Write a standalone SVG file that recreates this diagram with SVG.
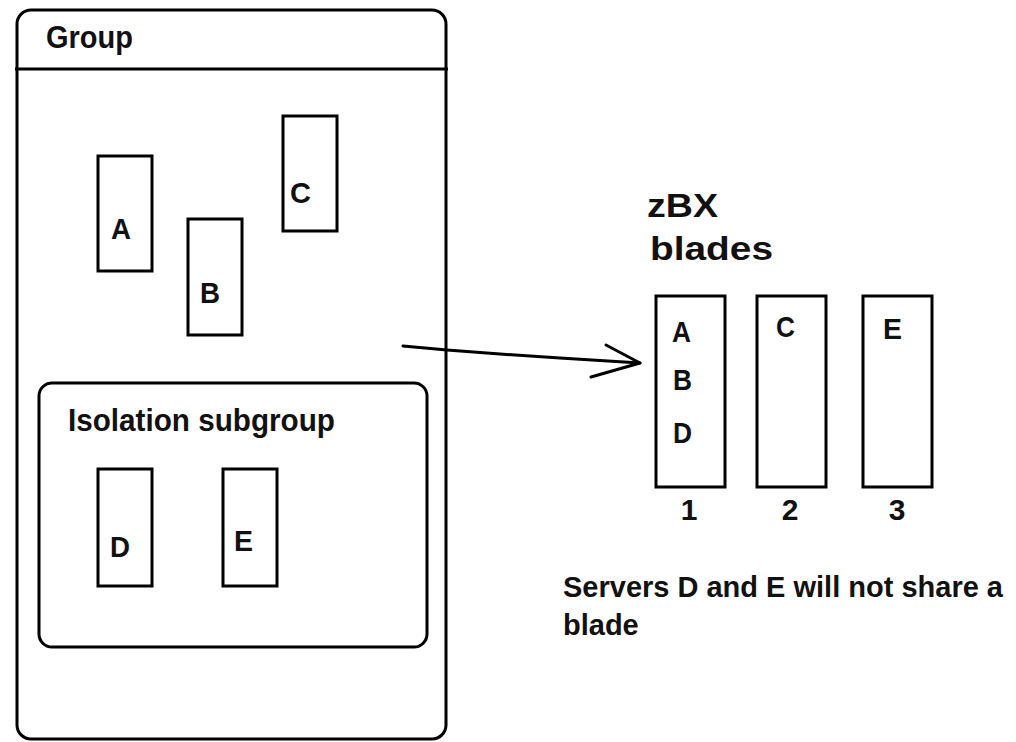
<svg xmlns="http://www.w3.org/2000/svg" width="1016" height="742" viewBox="0 0 1016 742">
<style>
.box{fill:none;stroke:#000;stroke-width:3}
.t{font-family:"Liberation Sans",Arial,sans-serif;font-weight:bold;fill:#111}
.lbl{font-size:30px}
.big{font-size:31px}
.note{font-size:29px}
.con{fill:none;stroke:#000;stroke-width:3;stroke-linecap:round;stroke-linejoin:round}
</style>
<rect width="1016" height="742" fill="#fff"/>
<g id="group">
<rect class="box" x="17" y="10" width="429" height="729" rx="14"/>
<line class="box" x1="15" y1="69" x2="448" y2="69"/>
<text class="t big" x="46" y="48" textLength="87" lengthAdjust="spacingAndGlyphs">Group</text>
</g>
<g id="node-A"><rect class="box" x="98" y="156" width="54" height="115"/><text class="t lbl" x="111" y="239" textLength="20" lengthAdjust="spacingAndGlyphs">A</text></g>
<g id="node-B"><rect class="box" x="188" y="219" width="54" height="116"/><text class="t lbl" x="200" y="303" textLength="20" lengthAdjust="spacingAndGlyphs">B</text></g>
<g id="node-C"><rect class="box" x="283" y="116" width="54" height="115"/><text class="t lbl" x="290" y="203" textLength="21" lengthAdjust="spacingAndGlyphs">C</text></g>
<g id="isolation-subgroup">
<rect class="box" x="39" y="383" width="388" height="264" rx="13"/>
<text class="t big" x="68" y="431" textLength="267" lengthAdjust="spacingAndGlyphs">Isolation subgroup</text>
</g>
<g id="node-D"><rect class="box" x="98" y="469" width="54" height="117"/><text class="t lbl" x="110" y="557" textLength="20" lengthAdjust="spacingAndGlyphs">D</text></g>
<g id="node-E"><rect class="box" x="223" y="469" width="54" height="117"/><text class="t lbl" x="234" y="551" textLength="19" lengthAdjust="spacingAndGlyphs">E</text></g>
<g id="zbx-title">
<text class="t" font-size="34" x="647" y="217" textLength="71" lengthAdjust="spacingAndGlyphs">zBX</text>
<text class="t" font-size="34" x="650" y="260" textLength="123" lengthAdjust="spacingAndGlyphs">blades</text>
</g>
<g id="blade-1">
<rect class="box" x="656" y="296" width="69" height="191"/>
<text class="t lbl" x="672" y="342" textLength="19" lengthAdjust="spacingAndGlyphs">A</text>
<text class="t lbl" x="673" y="390" textLength="19" lengthAdjust="spacingAndGlyphs">B</text>
<text class="t lbl" x="673" y="443" textLength="19" lengthAdjust="spacingAndGlyphs">D</text>
<text class="t lbl" x="689" y="520" text-anchor="middle">1</text>
</g>
<g id="blade-2">
<rect class="box" x="757" y="296" width="69" height="191"/>
<text class="t lbl" x="776" y="337" textLength="19" lengthAdjust="spacingAndGlyphs">C</text>
<text class="t lbl" x="790" y="520" text-anchor="middle">2</text>
</g>
<g id="blade-3">
<rect class="box" x="863" y="296" width="69" height="191"/>
<text class="t lbl" x="883" y="339" textLength="19" lengthAdjust="spacingAndGlyphs">E</text>
<text class="t lbl" x="897" y="520" text-anchor="middle">3</text>
</g>
<g id="note">
<text class="t note" x="563" y="597">Servers D and E will not share a</text>
<text class="t note" x="563" y="635">blade</text>
</g>
<g id="connectors">
<polyline class="con" points="403,346 447,350 500,354 560,358 640,363"/>
<polyline class="con" points="606,345 640,363 591,377"/>
</g>
</svg>
